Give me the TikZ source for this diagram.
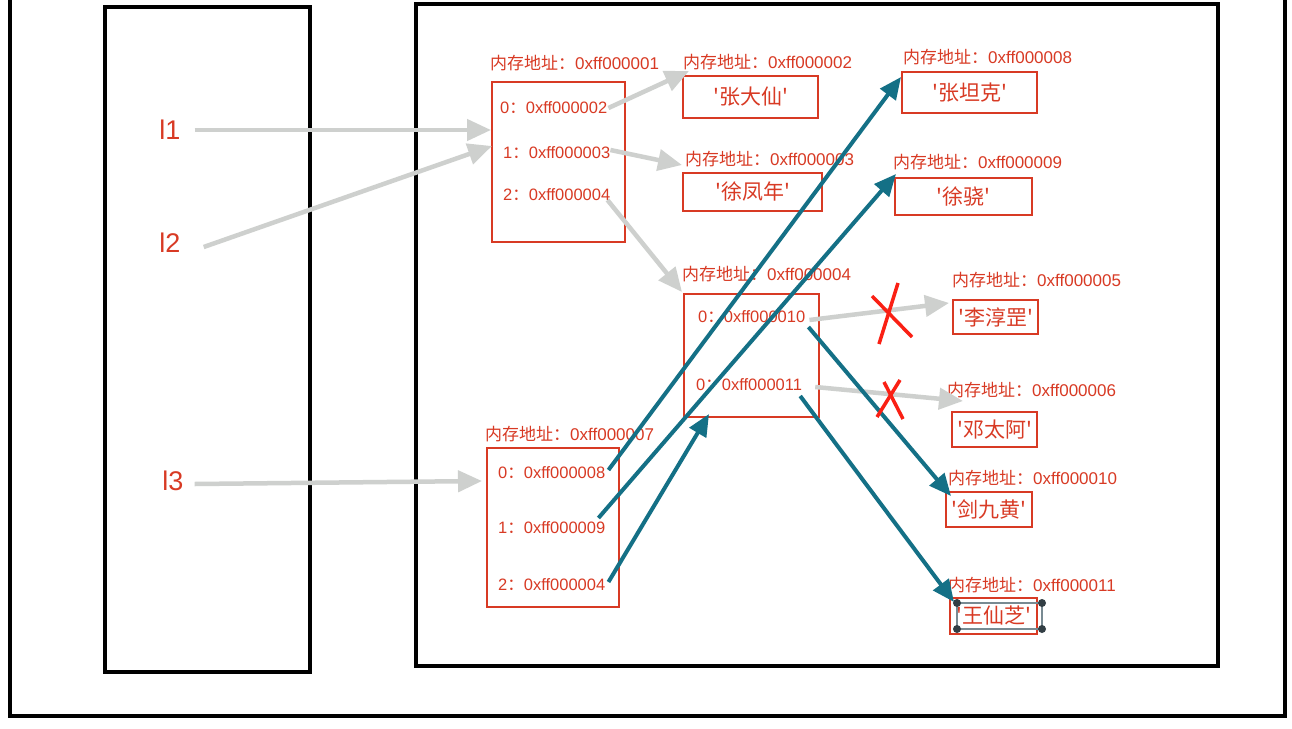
\documentclass[tikz,border=0pt]{standalone}
\usepackage{fontspec}
\setmainfont{Liberation Sans}
\newfontfamily\cjk{Noto Sans CJK SC}
\usetikzlibrary{arrows.meta,calc}
\definecolor{memred}{RGB}{216,58,36}
\definecolor{xred}{RGB}{250,32,20}
\definecolor{arrgray}{RGB}{206,208,206}
\definecolor{tealc}{RGB}{20,112,134}
\definecolor{selgray}{RGB}{120,138,146}
\definecolor{seldot}{RGB}{50,62,68}
\newcommand{\memaddr}{{\cjk 内存地址：}}
\newcommand{\fcolon}{{\cjk ：}}
\begin{document}
\begin{tikzpicture}[x=1pt,y=-1pt,
  frame/.style={draw=black,line width=3.5pt},
  membox/.style={draw=memred,line width=2pt,inner sep=0pt,rectangle,text=memred,font=\cjk\fontsize{21}{21}\selectfont},
  addr/.style={text=memred,font=\fontsize{17}{17}\selectfont,inner sep=0pt,anchor=west},
  cell/.style={text=memred,font=\fontsize{16.5}{16.5}\selectfont,inner sep=0pt,anchor=west},
  var/.style={text=memred,font=\fontsize{27}{27}\selectfont,inner sep=0pt},
  ref/.style={draw=arrgray,line width=4.5pt,-{Triangle[length=24pt,width=21pt]}},
  newref/.style={draw=tealc,line width=4pt,-{Triangle[length=22pt,width=19pt]}},
  cross/.style={draw=xred,line width=3.5pt}]
\useasboundingbox (0,0) rectangle (1292,728);
\fill[white] (0,0) rectangle (1292,728);
\clip (0,0) rectangle (1292,728);

% frames
\draw[frame] (10,-20) -- (10,716) -- (1285,716) -- (1285,-20);
\draw[frame] (105,7) rectangle (310,672);
\draw[frame] (416,4) rectangle (1218,666);

% variables
\node[var] (l1) at (170,130) {l1};
\node[var] (l2) at (170,243) {l2};
\node[var] (l3) at (173,481) {l3};

% boxes
\node[membox,minimum width=133pt,minimum height=160pt] (A) at (558.5,162) {};
\node[membox,minimum width=135pt,minimum height=42pt] (zdx) at (750.5,97) {'张大仙'};
\node[membox,minimum width=139pt,minimum height=38pt] (xfn) at (752.5,192) {'徐凤年'};
\node[membox,minimum width=135pt,minimum height=41pt] (zfk) at (969.5,92.5) {'张坦克'};
\node[membox,minimum width=137pt,minimum height=37pt] (xx) at (963.5,196.5) {'徐骁'};
\node[membox,minimum width=135pt,minimum height=123pt] (m4) at (751.5,355.5) {};
\node[membox,minimum width=85pt,minimum height=34pt] (lcg) at (995.5,317) {'李淳罡'};
\node[membox,minimum width=85pt,minimum height=35pt] (dta) at (994.5,429.5) {'邓太阿'};
\node[membox,minimum width=86pt,minimum height=35pt] (jjh) at (989,509.5) {'剑九黄'};
\node[membox,minimum width=87pt,minimum height=36pt] (wxz) at (993.5,616) {'王仙芝'};
\node[membox,minimum width=132pt,minimum height=159pt] (B) at (553,527.5) {};

% address labels
\node[addr] (Alab) at (490,63) {\memaddr 0xff000001};
\node[addr] (zdxlab) at (683,62) {\memaddr 0xff000002};
\node[addr] (xfnlab) at (685,159) {\memaddr 0xff000003};
\node[addr] (zfklab) at (903,57) {\memaddr 0xff000008};
\node[addr] (xxlab) at (893,162) {\memaddr 0xff000009};
\node[addr] (m4lab) at (682,274) {\memaddr 0xff000004};
\node[addr] (lcglab) at (952,280) {\memaddr 0xff000005};
\node[addr] (dtalab) at (947,390) {\memaddr 0xff000006};
\node[addr] (jjhlab) at (948,478) {\memaddr 0xff000010};
\node[addr] (wxzlab) at (948,585) {\memaddr 0xff000011};
\node[addr] (Blab) at (485,434) {\memaddr 0xff000007};

% cells
\node[cell] (A0) at (500,108) {0\fcolon 0xff000002};
\node[cell] (A1) at (503,153) {1\fcolon 0xff000003};
\node[cell] (A2) at (503,195) {2\fcolon 0xff000004};
\node[cell] (m40) at (698,317) {0\fcolon 0xff000010};
\node[cell] (m41) at (696,385) {0\fcolon 0xff000011};
\node[cell] (B0) at (498,473) {0\fcolon 0xff000008};
\node[cell] (B1) at (498,528) {1\fcolon 0xff000009};
\node[cell] (B2) at (498,585) {2\fcolon 0xff000004};

% selection handles
\draw[selgray,line width=1.5pt] (957,603) rectangle (1042,629);
\foreach \p in {(957,603),(1042,603),(957,629),(1042,629)} \fill[seldot] \p circle (4);

% gray references
\draw[ref] ($(l1.east)+(14,0)$) -- ($(A.north west)+(0,49)$);
\draw[ref] ($(l2.east)+(23,4)$) -- ($(A.north west)+(1,65)$);
\draw[ref] ($(l3.east)+(11,3)$) -- ($(B.west)+(-4,-46.5)$);
\draw[ref] ($(A0.east)+(1,0)$) -- ($(zdx.north west)+(7,-4)$);
\draw[ref] ($(A1.east)+(0,-3)$) -- ($(xfn.north west)+(0,-7)$);
\draw[ref] ($(A2.east)+(-3,5)$) -- ($(m4.north west)+(-1,-1)$);
\draw[ref] ($(m40.east)+(4,3)$) -- ($(lcg.west)+(-3,-14)$);
\draw[ref] ($(m41.east)+(13,2)$) -- ($(dta.north west)+(12,-10)$);

% teal references
\draw[newref] ($(B0.east)+(3,-3)$) -- ($(zfk.north west)+(0,6)$);
\draw[newref] ($(B1.east)+(-7,-10)$) -- ($(xx.north west)+(2,-3)$);
\draw[newref] ($(B2.east)+(3,-3)$) -- ($(m4.south west)+(26,-4)$);
\draw[newref] ($(m40.east)+(3,10)$) -- ($(jjh.north west)+(6,5)$);
\draw[newref] ($(m41.east)+(-2,11)$) -- ($(wxz.north west)+(5,5)$);

% crosses
\draw[cross] (898,283) -- (879,344);
\draw[cross] (872,296) -- (912,337);
\draw[cross] (900,380) -- (877,417);
\draw[cross] (884,382) -- (903,419);
\end{tikzpicture}
\end{document}
